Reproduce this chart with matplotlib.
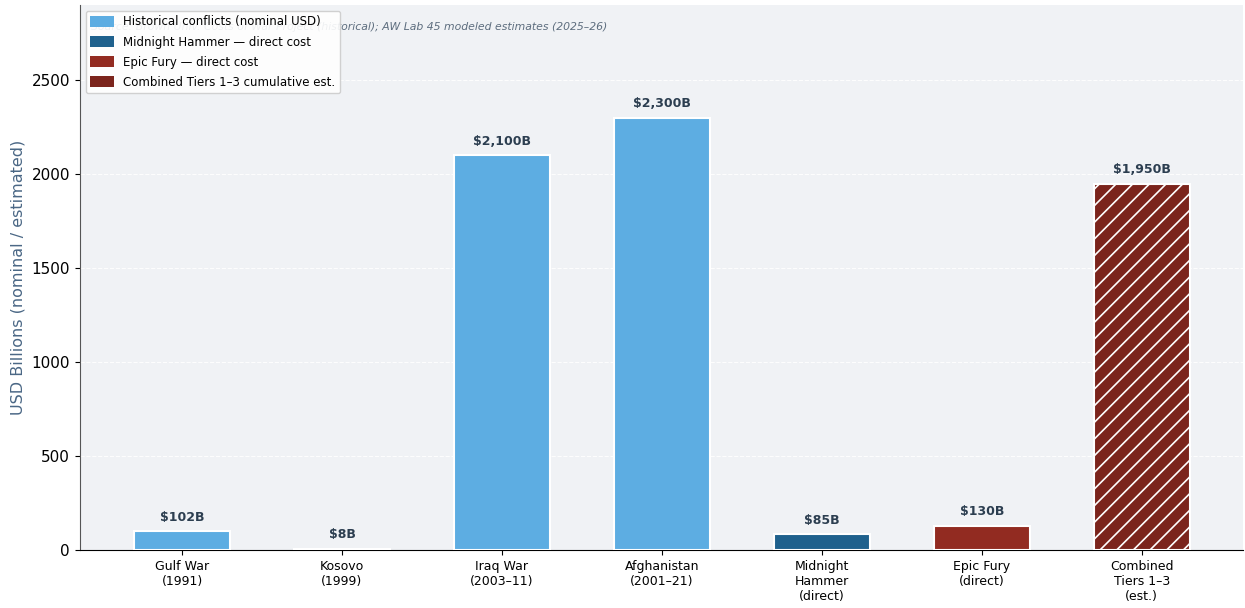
import numpy as np
import matplotlib.pyplot as plt
from matplotlib.patches import Patch

# Dados
categorias = ['Gulf War\n(1991)', 'Kosovo\n(1999)', 'Iraq War\n(2003–11)', 'Afghanistan\n(2001–21)',
              'Midnight\nHammer\n(direct)', 'Epic Fury\n(direct)', 'Combined\nTiers 1–3\n(est.)']
valores = [102, 8, 2100, 2300, 85, 130, 1950]
rotulos = ['$102B', '$8B', '$2,100B', '$2,300B', '$85B', '$130B', '$1,950B']
cores = ['#5DADE2', '#5DADE2', '#5DADE2', '#5DADE2', '#1F618D', '#922B21', '#7B241C']
hachuras = ['', '', '', '', '', '', '//']

plt.rcParams['hatch.color'] = 'white'
plt.rcParams['hatch.linewidth'] = 1.2

fig, ax = plt.subplots(figsize=(12.45, 6.08), dpi=100)
fig.subplots_adjust(left=0.064, right=0.998, top=0.992, bottom=0.095)
ax.set_facecolor('#F0F2F5')

x = np.arange(len(categorias))
barras = ax.bar(x, valores, width=0.6, color=cores, edgecolor='white', linewidth=1.5, zorder=3)
for b, h in zip(barras, hachuras):
    b.set_hatch(h)

# Rotulos acima das barras
for xi, v, r in zip(x, valores, rotulos):
    ax.text(xi, v + 40, r, ha='center', va='bottom', fontsize=9, fontweight='bold', color='#2C3E50')

ax.set_xticks(x)
ax.set_xticklabels(categorias, fontsize=9, family=['Liberation Sans Narrow', 'DejaVu Sans'])
ax.tick_params(axis='y', labelsize=11)
ax.set_ylabel('USD Billions (nominal / estimated)', fontsize=11.5, color='#4A6785')
ax.set_xlim(-0.64, 6.63)
ax.set_ylim(0, 2900)
ax.grid(axis='y', color='white', linestyle='--', linewidth=0.8, alpha=0.9, zorder=0)

for s in ['top', 'right']:
    ax.spines[s].set_visible(False)
ax.spines['left'].set_color('#555555')

ax.text(0.01, 0.96, 'Source: Brown Univ. Costs of War Project (historical); AW Lab 45 modeled estimates (2025–26)',
        transform=ax.transAxes, fontsize=7.8, style='italic', color='#5D6D7E', va='center')

legenda = [Patch(facecolor='#5DADE2', label='Historical conflicts (nominal USD)'),
           Patch(facecolor='#1F618D', label='Midnight Hammer — direct cost'),
           Patch(facecolor='#922B21', label='Epic Fury — direct cost'),
           Patch(facecolor='#7B241C', label='Combined Tiers 1–3 cumulative est.')]
ax.legend(handles=legenda, loc='upper left', fontsize=8.5, framealpha=0.9,
          handleheight=1.0, labelspacing=0.6, handlelength=2.0)

plt.savefig('out.png', dpi=100)
